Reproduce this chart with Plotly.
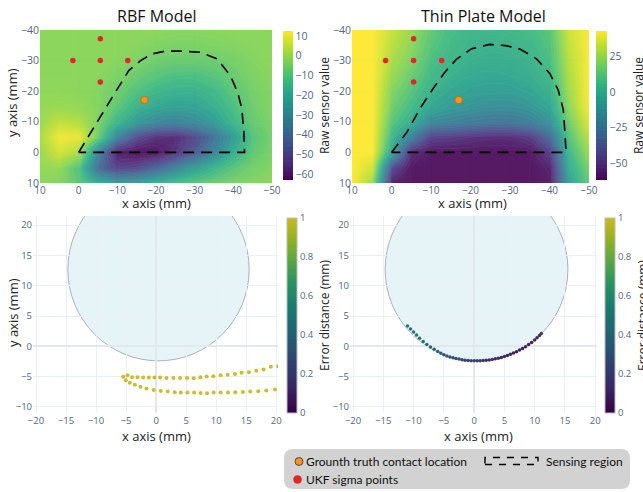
import plotly.graph_objects as go

W, H = 643, 492

# ---------------- data ----------------
grid_x = [10, 5, 0, -5, -10, -15, -20, -25, -30, -35, -40, -45, -50]
grid_y = [-40, -35, -30, -25, -20, -15, -10, -5, 0, 5, 10]

# RBF model raw sensor value (rows = grid_y, cols = grid_x)
rbf_z = [
    [-2, -2, -2, -2, -2, -2, -2, -2.5, -2.5, -2.5, -2, -2, -2],
    [-2, -2, -2, -2, -2, -2.5, -3.5, -4, -4, -3.5, -3, -2.5, -2],
    [-2, -2, -2, -2, -2.5, -4, -6, -7, -7, -6.5, -5, -3, -2],
    [-2, -2, -2, -2.5, -4, -7, -10, -12, -12, -10, -7, -4, -2.5],
    [-1.5, -1.5, -2, -3, -6, -11, -15, -17, -17, -14, -9, -5, -3],
    [-1, -0.5, -1, -3, -9, -17, -21, -23, -22, -18, -12, -6, -3],
    [0, 5, 3, -4, -15, -25, -31, -33, -30, -24, -15, -7, -4],
    [2, 11, 10, -6, -32, -50, -57, -58, -50, -38, -24, -10, -5],
    [0, 7, 2, -32, -61, -64, -63, -56, -45, -32, -18, -8, -4],
    [-1, -1, -11, -40, -52, -50, -42, -32, -23, -15, -9, -5, -3],
    [-2, -3, -9, -18, -24, -22, -17, -12, -9, -6, -4, -3, -2],
]

# Thin plate model raw sensor value (rows = grid_y, cols = grid_x)
tps_z = [
    [43, 43, 33, 25, 14, 8, 5, 4, 5, 8, 13, 35, 43],
    [43, 43, 31, 23, 12, 6, 3, 2, 3, 5, 11, 33, 43],
    [43, 43, 28, 20, 9, 4, 1, 0, 0, 2, 9, 31, 43],
    [43, 43, 25, 16, 6, 1, -2, -3, -2, 0, 6, 29, 43],
    [43, 43, 21, 12, 2, -3, -6, -7, -7, -4, 2, 27, 43],
    [43, 43, 17, 7, -3, -9, -12, -14, -14, -11, -3, 24, 42],
    [43, 43, 12, 1, -18, -21, -24, -26, -26, -22, -12, 18, 38],
    [43, 43, 5, -22, -48, -50, -53, -55, -55, -50, -30, 12, 32],
    [43, 43, -5, -55, -62, -62, -62, -62, -62, -62, -48, 6, 26],
    [43, 35, -45, -62, -62, -62, -62, -62, -62, -62, -58, 0, 20],
    [43, 25, -60, -62, -62, -62, -62, -62, -62, -62, -60, -5, 15],
]

sigma_x = [1.5, -5.6, -5.6, -5.6, -12.7]
sigma_y = [-30.0, -37.1, -30.0, -23.0, -30.0]
truth_x = [-17.0]
truth_y = [-17.1]

rbf_region_x = [0, -2.65, -6.1, -9.5, -13.0, -16.0, -19.0, -22.4, -26.3, -31.5,
                -35.8, -39.2, -41.1, -42.2, -42.7, -42.9, 0]
rbf_region_y = [0, -5.6, -12.7, -19.7, -26.8, -30.0, -32.2, -33.1, -33.1, -32.7,
                -30.6, -25.1, -19.7, -14.3, -6.7, 0, 0]
tps_region_x = [0, -3.8, -7.2, -10.5, -13.5, -16.5, -20.3, -24.9, -29.0, -32.5,
                -36.7, -40.1, -42.2, -43.5, -43.9, -44.2, 0]
tps_region_y = [0, -6.4, -14.3, -20.8, -26.2, -30.5, -33.9, -35.3, -34.9, -33.8,
                -30.6, -25.7, -20.4, -13.9, -6.4, 0, 0]

# contact circle
circle_cx, circle_cy, circle_r = 0.4, 12.7, 15.1

# RBF tracking estimates (error distance in mm, clipped at 1 by colour scale)
rbf_track_x = [-5.48, -4.76, -3.99, -3.10, -2.16, -1.22, -0.28, 0.66, 1.72, 2.88,
               3.99, 5.15, 6.26, 7.37, 8.42, 9.53, 10.75, 11.91, 13.13, 14.24,
               15.46, 16.68, 17.89, 19.11, 20.33,
               -5.04, -4.38, -3.55, -2.60, -1.61, -0.39, 0.78, 1.94, 3.10, 4.10,
               5.21, 6.32, 7.42, 8.48, 9.58, 10.75, 11.97, 13.19, 14.46, 15.68,
               17.01, 18.34, 19.78]
rbf_track_y = [-5.04, -4.77, -5.10, -5.10, -5.15, -5.15, -5.15, -5.15, -5.21, -5.21,
               -5.21, -5.21, -5.26, -5.10, -4.99, -4.93, -4.77, -4.71, -4.55, -4.38,
               -4.27, -4.05, -3.83, -3.39, -3.28,
               -5.59, -6.03, -6.36, -6.69, -6.97, -7.19, -7.35, -7.46, -7.57, -7.63,
               -7.63, -7.63, -7.68, -7.74, -7.63, -7.63, -7.63, -7.57, -7.52, -7.46,
               -7.41, -7.30, -7.13]
rbf_track_err = [7.2, 7.5, 7.7, 7.9, 8.0, 8.1, 8.1, 8.1, 8.0, 7.9,
                 7.7, 7.5, 7.3, 7.1, 6.9, 6.8, 6.6, 6.5, 6.4, 6.3,
                 6.2, 6.2, 6.1, 6.1, 6.0,
                 7.6, 7.9, 8.2, 8.5, 8.8, 9.0, 9.2, 9.3, 9.4, 9.4,
                 9.4, 9.3, 9.2, 9.1, 9.0, 8.9, 8.8, 8.7, 8.6, 8.5,
                 8.4, 8.3, 8.2]

# Thin plate tracking estimates
tps_track_x = [-11.0, -10.5, -10.0, -9.5, -9.0, -8.4, -7.8, -7.2, -6.6, -6.0, -5.5,
               -5.0, -4.5, -4.0, -3.5, -3.0, -2.5, -2.0, -1.5, -1.0, -0.5, 0.0,
               0.5, 1.0, 1.5, 2.0, 2.5, 3.0, 3.5, 4.0, 4.5, 5.0, 5.5, 6.0, 6.5,
               7.0, 7.5, 8.0, 8.5, 9.0, 9.5, 10.0, 10.4, 10.8, 11.1]
tps_track_y = [3.35, 2.85, 2.35, 1.85, 1.35, 0.8, 0.3, -0.1, -0.5, -0.85, -1.15,
               -1.4, -1.6, -1.75, -1.9, -2.0, -2.1, -2.2, -2.28, -2.33, -2.36, -2.38,
               -2.39, -2.38, -2.35, -2.31, -2.25, -2.17, -2.07, -1.96, -1.83, -1.68,
               -1.5, -1.32, -1.1, -0.88, -0.62, -0.35, -0.05, 0.29, 0.65, 1.04,
               1.4, 1.8, 2.1]
tps_track_err = [0.47, 0.47, 0.46, 0.46, 0.45, 0.44, 0.43, 0.41, 0.39, 0.37, 0.35,
                 0.33, 0.31, 0.29, 0.27, 0.26, 0.25, 0.24, 0.23, 0.22, 0.21, 0.20,
                 0.19, 0.18, 0.17, 0.16, 0.15, 0.14, 0.13, 0.12, 0.11, 0.10,
                 0.09, 0.09, 0.08, 0.08, 0.07, 0.07, 0.07, 0.07, 0.07, 0.08,
                 0.10, 0.14, 0.18]

rbf_ticks = [10, 0, -10, -20, -30, -40, -50, -60]
tps_ticks = [25, 0, -25, -50]
err_ticks = [0, 0.2, 0.4, 0.6, 0.8, 1]

# ---------------- helpers ----------------
def PX(p):
    return p / W


def PY(p):
    return 1 - p / H


TICK_COLOR = "#506784"
TICK_FONT = dict(family="Open Sans", size=10.5, color=TICK_COLOR)
XTICK_FONT = dict(family="Open Sans", size=10, color=TICK_COLOR)
SMALL_TICK_FONT = dict(family="Open Sans", size=9.5, color=TICK_COLOR)

err_scale = [
    [0.0, "rgb(54,1,67)"], [1 / 9, "rgb(58,32,96)"], [2 / 9, "rgb(50,58,110)"],
    [3 / 9, "rgb(39,83,114)"], [4 / 9, "rgb(30,104,114)"], [5 / 9, "rgb(25,126,110)"],
    [6 / 9, "rgb(42,146,97)"], [7 / 9, "rgb(88,165,70)"], [8 / 9, "rgb(145,178,34)"],
    [1.0, "rgb(202,185,30)"],
]

fig = go.Figure()

# ---------------- top heatmaps ----------------
top_cb_y = PY((31 + 180) / 2)
top_cb_len = (180 - 31) / H

fig.add_trace(go.Contour(
    x=grid_x, y=grid_y, z=rbf_z, colorscale="Viridis",
    zmin=-63, zmax=12.5, zauto=False,
    contours=dict(start=-63, end=12.5, size=2.5, coloring="heatmap"),
    line=dict(width=0.5, color="rgba(255,255,255,0.08)", smoothing=1.3),
    opacity=0.95,
    colorbar=dict(x=PX(283), xanchor="left", y=top_cb_y, yanchor="middle",
                  len=top_cb_len, lenmode="fraction", thickness=10, xpad=0, ypad=0,
                  outlinewidth=0, tickvals=rbf_ticks, tickfont=TICK_FONT,
                  title=dict(text="Raw sensor value", side="right",
                             font=dict(family="Open Sans", size=12, color="#222"))),
    xaxis="x", yaxis="y", showlegend=False, hoverinfo="skip",
))
fig.add_trace(go.Contour(
    x=grid_x, y=grid_y, z=tps_z, colorscale="Viridis",
    zmin=-62, zmax=43, zauto=False,
    contours=dict(start=-62, end=43, size=3, coloring="heatmap"),
    line=dict(width=0.5, color="rgba(255,255,255,0.08)", smoothing=1.3),
    opacity=0.95,
    colorbar=dict(x=PX(596), xanchor="left", y=top_cb_y, yanchor="middle",
                  len=top_cb_len, lenmode="fraction", thickness=11, xpad=0, ypad=0,
                  outlinewidth=0, tickvals=tps_ticks, tickfont=TICK_FONT,
                  title=dict(text="Raw sensor value", side="right",
                             font=dict(family="Open Sans", size=12, color="#222"))),
    xaxis="x2", yaxis="y2", showlegend=False, hoverinfo="skip",
))

for xa, ya, rx, ry in (("x", "y", rbf_region_x, rbf_region_y),
                       ("x2", "y2", tps_region_x, tps_region_y)):
    fig.add_trace(go.Scatter(x=rx, y=ry, mode="lines", xaxis=xa, yaxis=ya,
                             line=dict(color="black", width=1.6, dash="11px,7px"),
                             showlegend=False, hoverinfo="skip"))
    fig.add_trace(go.Scatter(x=sigma_x, y=sigma_y, mode="markers", xaxis=xa, yaxis=ya,
                             marker=dict(color="#e2262b", size=5.5),
                             showlegend=False, hoverinfo="skip"))
    fig.add_trace(go.Scatter(x=truth_x, y=truth_y, mode="markers", xaxis=xa, yaxis=ya,
                             marker=dict(color="#f7931e", size=7.5,
                                         line=dict(color="#b86a10", width=0.8)),
                             showlegend=False, hoverinfo="skip"))

# ---------------- bottom tracking plots ----------------
bot_cb_y = PY((218 + 413) / 2)
bot_cb_len = (413 - 218) / H

for xa, ya, tx, ty, te, cbx, ms in (("x3", "y3", rbf_track_x, rbf_track_y, rbf_track_err, 287, 4),
                                    ("x4", "y4", tps_track_x, tps_track_y, tps_track_err, 605, 3.5)):
    fig.add_trace(go.Scatter(
        x=tx, y=ty, mode="markers", xaxis=xa, yaxis=ya,
        marker=dict(size=ms, color=te, colorscale=err_scale, cmin=0, cmax=1,
                    opacity=0.95, line=dict(width=0),
                    colorbar=dict(x=PX(cbx), xanchor="left", y=bot_cb_y, yanchor="middle",
                                  len=bot_cb_len, lenmode="fraction", thickness=10,
                                  xpad=0, ypad=0, outlinewidth=1, outlinecolor="#bbbbbb",
                                  tickvals=err_ticks, tickfont=SMALL_TICK_FONT,
                                  title=dict(text="Error distance (mm)", side="right",
                                             font=dict(family="Open Sans", size=12,
                                                       color="#222")))),
        showlegend=False, hoverinfo="skip",
    ))

# ---------------- axes ----------------
top_dom_y = [PY(183), PY(30)]
bot_dom_y = [PY(413), PY(216)]
common = dict(showline=False, ticks="", tickfont=TICK_FONT, gridcolor="#EBF0F8",
              automargin=False)

fig.update_layout(
    xaxis=dict(domain=[PX(40), PX(272)], range=[10, -50], dtick=10, tick0=0,
               zeroline=False, anchor="y", **{**common, "tickfont": XTICK_FONT}),
    yaxis=dict(domain=top_dom_y, range=[10, -40], dtick=10, tick0=0,
               zeroline=False, anchor="x", **common),
    xaxis2=dict(domain=[PX(352), PX(589)], range=[10, -50], dtick=10, tick0=0,
                zeroline=False, anchor="y2", **{**common, "tickfont": XTICK_FONT}),
    yaxis2=dict(domain=top_dom_y, range=[10, -40], dtick=10, tick0=0,
                zeroline=False, anchor="x2", **common),
    xaxis3=dict(domain=[PX(33), PX(278)], range=[-20.5, 20.3], dtick=5, tick0=0,
                zeroline=True, zerolinecolor="#E3E8EF", zerolinewidth=1.5, anchor="y3",
                **{**common, "tickfont": SMALL_TICK_FONT}),
    yaxis3=dict(domain=bot_dom_y, range=[-11, 21.5], dtick=5, tick0=0,
                zeroline=True, zerolinecolor="#E3E8EF", zerolinewidth=1.5, anchor="x3",
                **{**common, "tickfont": SMALL_TICK_FONT}),
    xaxis4=dict(domain=[PX(350), PX(597)], range=[-20.5, 20.3], dtick=5, tick0=0,
                zeroline=True, zerolinecolor="#E3E8EF", zerolinewidth=1.5, anchor="y4",
                **{**common, "tickfont": SMALL_TICK_FONT}),
    yaxis4=dict(domain=bot_dom_y, range=[-11, 21.5], dtick=5, tick0=0,
                zeroline=True, zerolinecolor="#E3E8EF", zerolinewidth=1.5, anchor="x4",
                **{**common, "tickfont": SMALL_TICK_FONT}),
)

# ---------------- shapes ----------------
shapes = []
for xr, yr in (("x3", "y3"), ("x4", "y4")):
    shapes.append(dict(type="circle", xref=xr, yref=yr,
                       x0=circle_cx - circle_r, x1=circle_cx + circle_r,
                       y0=circle_cy - circle_r, y1=circle_cy + circle_r,
                       fillcolor="rgba(173,216,230,0.3)",
                       line=dict(color="rgba(120,130,145,0.6)", width=1),
                       layer="below"))

# legend box (rounded)
bx0, bx1, by0, by1, rr = 284, 630, 449, 489, 9
rx, ry = rr / W, rr / H
X0, X1, Y0, Y1 = PX(bx0), PX(bx1), PY(by1), PY(by0)
path = (f"M {X0+rx} {Y0} L {X1-rx} {Y0} Q {X1} {Y0} {X1} {Y0+ry} "
        f"L {X1} {Y1-ry} Q {X1} {Y1} {X1-rx} {Y1} L {X0+rx} {Y1} "
        f"Q {X0} {Y1} {X0} {Y1-ry} L {X0} {Y0+ry} Q {X0} {Y0} {X0+rx} {Y0} Z")
shapes.append(dict(type="path", xref="paper", yref="paper", path=path,
                   fillcolor="#d2d2d2", line=dict(width=0), layer="above"))


def circ(cx, cy, r, color, lc, lw):
    return dict(type="circle", xref="paper", yref="paper",
                x0=PX(cx - r), x1=PX(cx + r), y0=PY(cy + r), y1=PY(cy - r),
                fillcolor=color, line=dict(color=lc, width=lw), layer="above")


shapes.append(circ(299, 461.5, 4, "#f7931e", "#333333", 0.8))
shapes.append(circ(297.5, 479.5, 4, "#e2262b", "#e2262b", 0.5))
shapes.append(dict(type="rect", xref="paper", yref="paper",
                   x0=PX(485), x1=PX(538), y0=PY(464.5), y1=PY(457.5),
                   line=dict(color="black", width=1.4, dash="7px,7px"),
                   fillcolor="rgba(0,0,0,0)", layer="above"))

# ---------------- annotations ----------------
ann = []


def text(t, x, y, size=13, angle=0, xanchor="center", color="#222", family="Open Sans"):
    ann.append(dict(text=t, x=PX(x), y=PY(y), xref="paper", yref="paper",
                    showarrow=False, xanchor=xanchor, yanchor="middle",
                    textangle=angle, font=dict(family=family, size=size, color=color)))


text("RBF Model", 156, 16, size=16, color="#111")
text("Thin Plate Model", 483, 16, size=16, color="#111")
text("x axis (mm)", 156, 203.5)
text("x axis (mm)", 472, 203.5)
text("x axis (mm)", 156, 436)
text("x axis (mm)", 478, 436)
text("y axis (mm)", 12, 103, angle=-90)
text("y axis (mm)", 13, 313, angle=-90)
text("Grounth truth contact location", 304, 461, size=12, xanchor="left",
     color="#111", family="Lato")
text("UKF sigma points", 304, 479.5, size=12, xanchor="left", color="#111", family="Lato")
text("Sensing region", 544, 461, size=12, xanchor="left", color="#111", family="Lato")

fig.update_layout(
    width=W, height=H, template="plotly_white",
    margin=dict(l=0, r=0, t=0, b=0, autoexpand=False),
    paper_bgcolor="white", plot_bgcolor="white",
    font=dict(family="Open Sans"),
    shapes=shapes, annotations=ann, showlegend=False,
)

fig.write_html("out.html", config={"displayModeBar": False},
               post_script="document.body.style.margin='0';document.body.style.padding='0';")
